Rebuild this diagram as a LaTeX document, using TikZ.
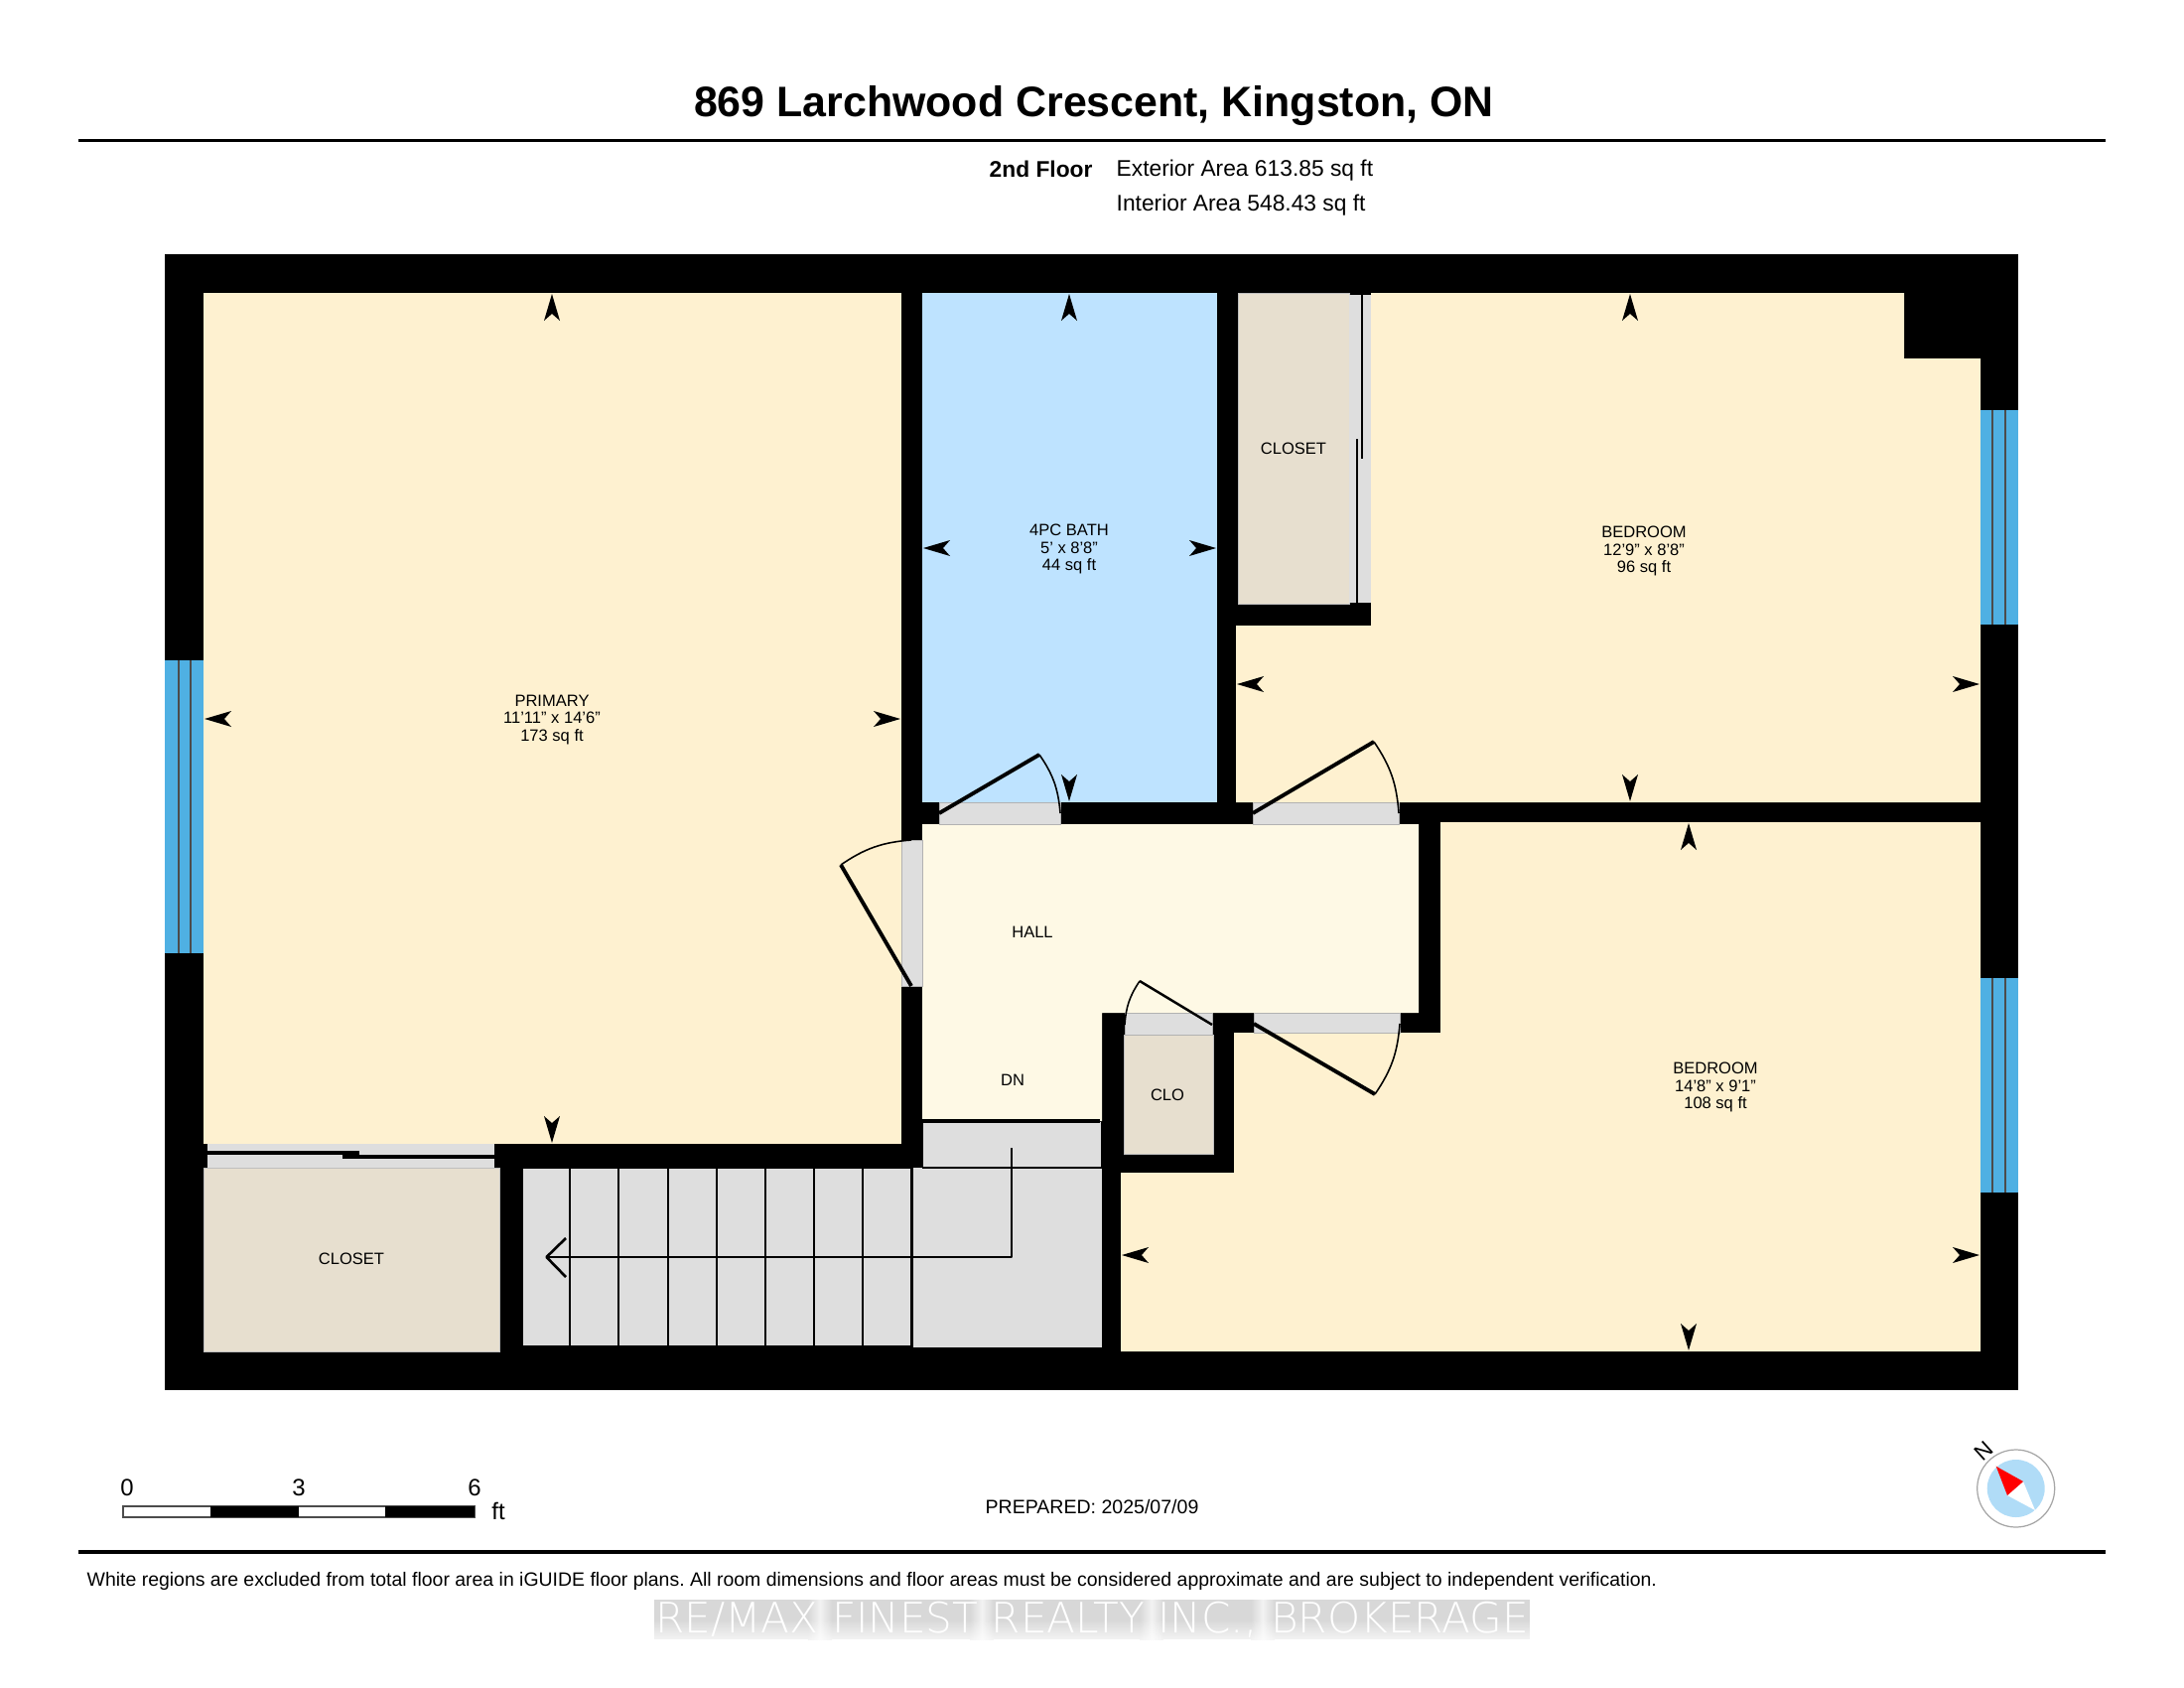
\documentclass[tikz,border=0pt]{standalone}
\usepackage{fontspec}
\usetikzlibrary{fadings}
\setmainfont{Liberation Sans}
\newfontfamily\wmfont{DejaVu Sans ExtraLight}
\definecolor{roomc}{HTML}{FEF1D0}
\definecolor{bathc}{HTML}{BEE3FF}
\definecolor{hallc}{HTML}{FEF9E5}
\definecolor{closetc}{HTML}{E7DFCF}
\definecolor{grayc}{HTML}{DEDEDE}
\definecolor{winc}{HTML}{4FB0E3}
\definecolor{discc}{HTML}{B0DCF7}
\definecolor{wmA}{HTML}{D8D8D8}
\definecolor{wmB}{HTML}{F2F2F2}
\tikzset{
  room/.style={fill=roomc},
  opening/.style={fill=grayc,draw=black!30,line width=0.2pt},
  closetroom/.style={fill=closetc,draw=black!25,line width=0.15pt},
  window/.style={fill=winc},
  winline/.style={draw=black!70,line width=0.35pt},
  doorleaf/.style={line width=1.1pt},
  doorleafthin/.style={line width=0.7pt},
  doorarc/.style={line width=0.45pt},
  riser/.style={line width=0.6pt},
  lab/.style={font=\fontsize{4.7}{5}\selectfont,align=center,inner sep=0pt,text=black},
  info/.style={font=\fontsize{6.48}{7}\selectfont,anchor=west,inner sep=0pt},
  rulebar/.style={line width=1.1pt},
}
\newcommand{\tick}[3]{\begin{scope}[shift={(#1,#2)},rotate=#3]
  \fill[black] (0,0) -- (8,27) -- (0,20) -- (-8,27) -- cycle;\end{scope}}
\begin{document}
\frenchspacing
\begin{tikzpicture}[x=0.01cm,y=-0.01cm]
\useasboundingbox (0,0) rectangle (2200,1700);
\fill[white] (0,0) rectangle (2200,1700);
% headings
\node[font=\fontsize{12.2}{14}\selectfont\bfseries,inner sep=0pt] (title) at (1102,107) {869 Larchwood Crescent, Kingston, ON};
\draw[rulebar] (79,141.5) -- (2121,141.5);
\node[info,font=\fontsize{6.48}{7}\selectfont\bfseries] (fl) at (996,170) {2nd Floor};
\node[info] (ext) at (1124,172) {Exterior Area 613.85 sq ft};
\node[info] (int) at (1124,207) {Interior Area 548.43 sq ft};
% shell
\fill[black] (166,256) rectangle (2033,1400);
% rooms
\fill[room] (205,295) rectangle (908,1152);
\fill[bathc] (929,295) rectangle (1226,808);
\fill[room] (1381,295) -- (1918,295) -- (1918,361) -- (1995,361) -- (1995,808) -- (1245,808) -- (1245,630) -- (1381,630) -- cycle;
\fill[room] (1451,828) -- (1995,828) -- (1995,1361) -- (1129,1361) -- (1129,1181) -- (1243,1181) -- (1243,1040) -- (1451,1040) -- cycle;
\fill[hallc] (929,830) -- (1429,830) -- (1429,1020) -- (1110,1020) -- (1110,1129) -- (929,1129) -- cycle;
% closets
\path[closetroom] (1247,295) rectangle (1359,608);
\path[closetroom] (205,1176) rectangle (503,1361);
\path[closetroom] (1132,1042) rectangle (1222,1162);
% stairs
\fill[grayc] (930,1130) rectangle (1109,1176);
\fill[grayc] (920,1176) rectangle (1110,1357);
\fill[grayc] (527,1177) rectangle (920,1355);
\foreach \x in {574,623,673,722,771,820,869,918.5} \draw[riser] (\x,1177) -- (\x,1355);
\draw[riser,line width=0.9pt] (929,1129) -- (1108,1129);
\draw[riser] (929,1176) -- (1110,1176);
\draw[line width=0.75pt,line join=round] (1019,1156) -- (1019,1266) -- (550.5,1266);
\draw[line width=0.75pt,line join=round] (570,1247) -- (550.5,1266) -- (570,1286);
% windows
\foreach \xa/\ya/\xb/\yb/\la/\lb in {166/665/205/960/180/192, 1995/413/2033/629/2007/2020, 1995/985/2033/1201/2007/2020}{
  \fill[window] (\xa,\ya) rectangle (\xb,\yb);
  \draw[winline] (\la,\ya) -- (\la,\yb);
  \draw[winline] (\lb,\ya) -- (\lb,\yb);
}
% openings
\path[opening] (946,808) rectangle (1068,830);
\path[opening] (1262,808) rectangle (1409,830);
\path[opening] (908,846) rectangle (929,993);
\path[opening] (1133,1020) rectangle (1221,1042);
\path[opening] (1263,1020) rectangle (1410,1040);
\fill[grayc] (209,1152) rectangle (498,1176);
\fill[grayc] (1359,297) rectangle (1381,607);
% sliding panels
\draw[line width=1pt] (209,1161) -- (362,1161);
\draw[line width=1pt] (344.5,1165) -- (498,1165);
\draw[line width=0.8pt] (1372,297) -- (1372,462);
\draw[line width=0.8pt] (1367,442) -- (1367,607);
% doors
\coordinate (d1a) at (946,819); \coordinate (d1b) at (1047,760); \coordinate (d1c) at (1068,819);
\coordinate (d2a) at (1262,819); \coordinate (d2b) at (1384,747); \coordinate (d2c) at (1409,819);
\coordinate (d3a) at (918,993); \coordinate (d3b) at (847,871); \coordinate (d3c) at (918,846);
\coordinate (d4a) at (1221,1032); \coordinate (d4b) at (1148,988); \coordinate (d4c) at (1133,1032);
\coordinate (d5a) at (1263,1031); \coordinate (d5b) at (1385,1102); \coordinate (d5c) at (1410,1031);
\draw[doorleaf] (d1a) -- (d1b); \draw[doorarc] (d1b) to[bend left=15] (d1c);
\draw[doorleaf] (d2a) -- (d2b); \draw[doorarc] (d2b) to[bend left=15] (d2c);
\draw[doorleaf] (d3a) -- (d3b); \draw[doorarc] (d3b) to[bend left=15] (d3c);
\draw[doorleafthin] (d4a) -- (d4b); \draw[doorarc] (d4b) to[bend right=15] (d4c);
\draw[doorleaf] (d5a) -- (d5b); \draw[doorarc] (d5b) to[bend right=15] (d5c);
% dimension ticks
\tick{556}{296}{0}
\tick{556}{1151}{180}
\tick{206}{724}{90}
\tick{907}{724}{-90}
\tick{1077}{296}{0}
\tick{1077}{807}{180}
\tick{930}{552}{90}
\tick{1225}{552}{-90}
\tick{1642}{296}{0}
\tick{1642}{807}{180}
\tick{1246}{689}{90}
\tick{1994}{689}{-90}
\tick{1701}{829}{0}
\tick{1701}{1360}{180}
\tick{1130}{1264}{90}
\tick{1994}{1264}{-90}
% labels
\node[lab] (primary) at (556,725) {PRIMARY\\11'11" x 14'6"\\173 sq ft};
\node[lab] (bath) at (1077,553) {4PC BATH\\5' x 8'8"\\44 sq ft};
\node[lab] (bed2) at (1656,555) {BEDROOM\\12'9" x 8'8"\\96 sq ft};
\node[lab] (bed3) at (1728,1095) {BEDROOM\\14'8" x 9'1"\\108 sq ft};
\node[lab] (clos1) at (1303,452) {CLOSET};
\node[lab] (clos2) at (354,1268) {CLOSET};
\node[lab] (hall) at (1040,939) {HALL};
\node[lab] (dn) at (1020,1088) {DN};
\node[lab] (clo) at (1176,1103) {CLO};
% scale bar
\draw[fill=white,line width=0.3pt,draw=black!70] (124,1517) rectangle (478,1528);
\fill[black] (212,1517) rectangle (301,1528);
\fill[black] (388,1517) rectangle (478,1528);
\node[font=\fontsize{6.8}{8}\selectfont,inner sep=0pt] (s0) at (128,1498) {0};
\node[font=\fontsize{6.8}{8}\selectfont,inner sep=0pt] (s3) at (301,1498) {3};
\node[font=\fontsize{6.8}{8}\selectfont,inner sep=0pt] (s6) at (478,1498) {6};
\node[font=\fontsize{6.8}{8}\selectfont,inner sep=0pt] (sft) at (502,1522) {ft};
\node[font=\fontsize{5.56}{7}\selectfont,inner sep=0pt] (prep) at (1100,1517) {PREPARED: 2025/07/09};
% compass
\draw[black!35,fill=white,line width=0.35pt] (2030.7,1499) circle[radius=39];
\fill[discc] (2030.7,1499) circle[radius=29];
\fill[white] (2038,1492) -- (2022,1506) -- (2050,1521) -- cycle;
\fill[red] (2010.7,1476.7) -- (2038,1492) -- (2022,1506) -- cycle;
\node[font=\fontsize{6.4}{8}\selectfont,inner sep=0pt,rotate=42] (north) at (1998,1461) {N};
% footer
\draw[rulebar] (79,1563) -- (2121,1563);
\node[info,font=\fontsize{5.53}{7}\selectfont] (disc) at (87,1592) {White regions are excluded from total floor area in iGUIDE floor plans. All room dimensions and floor areas must be considered approximate and are subject to independent verification.};
% watermark backdrop
\fill[wmA] (659,1611) rectangle (1541,1651);
\foreach \g in {826,989,1160,1272}{
  \shade[left color=wmA,right color=wmB] (\g-12,1611) rectangle (\g,1651);
  \shade[left color=wmB,right color=wmA] (\g,1611) rectangle (\g+12,1651);
}
\fill[white,path fading=north,fill opacity=0.75] (659,1631) rectangle (1541,1652);
\node[font=\wmfont\fontsize{12}{14}\selectfont,text=white,inner sep=0pt] (wm) at (1100,1631) {RE/MAX FINEST REALTY INC., BROKERAGE};
\end{tikzpicture}
\end{document}
